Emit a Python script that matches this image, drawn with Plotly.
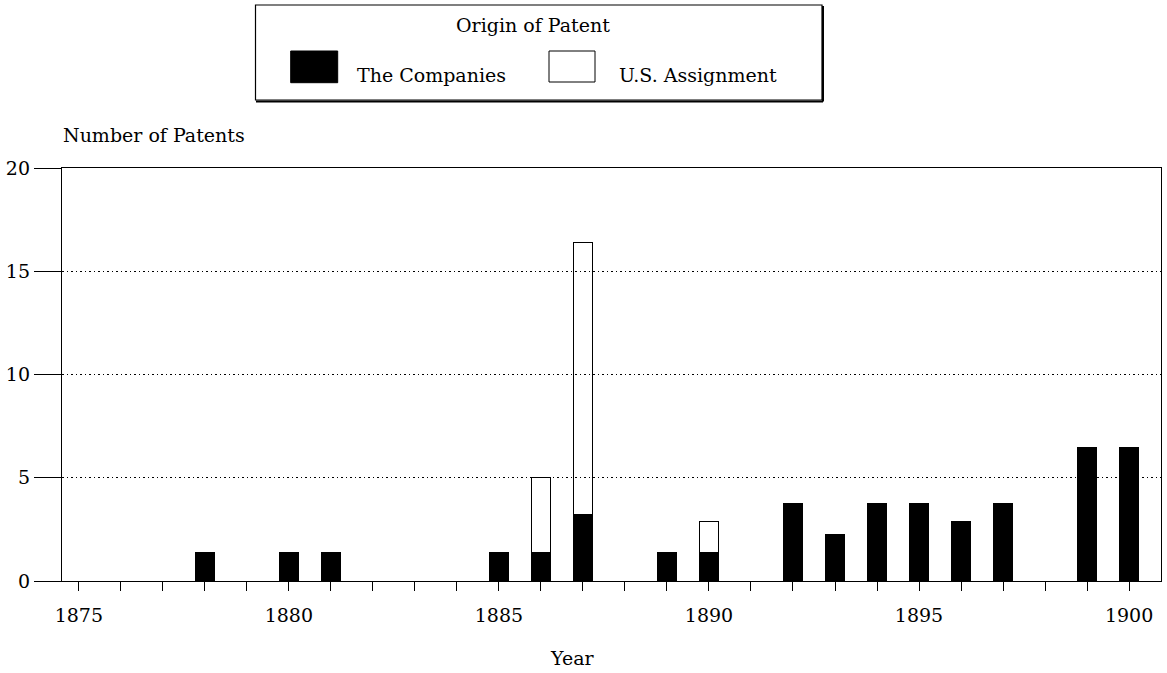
import plotly.graph_objects as go

years = [1878, 1880, 1881, 1885, 1886, 1887, 1889, 1890, 1892, 1893, 1894, 1895, 1896, 1897, 1899, 1900]
companies = [1.37, 1.37, 1.37, 1.37, 1.37, 3.22, 1.37, 1.37, 3.74, 2.25, 3.74, 3.74, 2.89, 3.74, 6.47, 6.47]
us_assignment = [None, None, None, None, 3.63, 13.16, None, 1.5, None, None, None, None, None, None, None, None]

tick_years = list(range(1875, 1901))
tick_labels = [str(y) if y % 5 == 0 else "" for y in tick_years]
y_ticks = [0, 5, 10, 15, 20]

FONT = "DejaVu Serif"
W, H = 1167, 673
L, R, T, B = 62, 6, 168, 92
PW = W - L - R
PH = H - T - B


def px(x):
    return (x - L) / PW


def py(y):
    return (H - B - y) / PH


fig = go.Figure()
fig.add_trace(go.Bar(
    x=years, y=companies, name="The Companies", width=0.45,
    marker=dict(color="black", line=dict(color="black", width=1)),
))
fig.add_trace(go.Bar(
    x=years, y=us_assignment, name="U.S. Assignment", width=0.45,
    marker=dict(color="rgba(255,255,255,0)", line=dict(color="black", width=1.3)),
))

fig.update_layout(
    width=W, height=H,
    margin=dict(l=L, r=R, t=T, b=B),
    barmode="stack",
    showlegend=False,
    plot_bgcolor="white",
    paper_bgcolor="white",
    font=dict(family=FONT, size=19, color="black"),
)

fig.update_xaxes(
    range=[1874.6, 1900.76],
    tickmode="array", tickvals=tick_years, ticktext=tick_labels,
    ticks="outside", ticklen=9, tickwidth=1, tickcolor="black",
    showline=True, linecolor="black", linewidth=1.3, mirror=True,
    showgrid=False, zeroline=False,
    ticklabelstandoff=8,
    tickfont=dict(family=FONT, size=19),
)
fig.update_yaxes(
    range=[0, 20],
    tickmode="array", tickvals=y_ticks,
    ticks="outside", ticklen=27, tickwidth=1.3, tickcolor="black",
    showline=True, linecolor="black", linewidth=1.3, mirror=True,
    showgrid=True, gridcolor="black", gridwidth=1, griddash="1.5px,3px",
    zeroline=False,
    ticklabelstandoff=0,
    tickfont=dict(family=FONT, size=19),
)

shapes = []
# legend box
shapes.append(dict(type="rect", xref="paper", yref="paper",
                   x0=px(255.5), x1=px(822), y0=py(100), y1=py(5),
                   line=dict(color="black", width=1.2), fillcolor="white", layer="above"))
# shadow edges
shapes.append(dict(type="line", xref="paper", yref="paper",
                   x0=px(256), x1=px(823), y0=py(101.5), y1=py(101.5),
                   line=dict(color="black", width=2)))
shapes.append(dict(type="line", xref="paper", yref="paper",
                   x0=px(823), x1=px(823), y0=py(101.5), y1=py(6),
                   line=dict(color="black", width=2)))
# swatches
shapes.append(dict(type="rect", xref="paper", yref="paper",
                   x0=px(290.7), x1=px(337.7), y0=py(82.7), y1=py(51),
                   line=dict(color="black", width=1), fillcolor="black"))
shapes.append(dict(type="rect", xref="paper", yref="paper",
                   x0=px(549), x1=px(595), y0=py(82), y1=py(51),
                   line=dict(color="black", width=1), fillcolor="white"))

annotations = [
    dict(text="Origin of Patent", xref="paper", yref="paper", x=px(533), y=py(25),
         xanchor="center", yanchor="middle", showarrow=False, font=dict(family=FONT, size=19)),
    dict(text="The Companies", xref="paper", yref="paper", x=px(355), y=py(75),
         xanchor="left", yanchor="middle", showarrow=False, font=dict(family=FONT, size=19)),
    dict(text="U.S. Assignment", xref="paper", yref="paper", x=px(617), y=py(75),
         xanchor="left", yanchor="middle", showarrow=False, font=dict(family=FONT, size=19)),
    dict(text="Number of Patents", xref="paper", yref="paper", x=px(61), y=py(135),
         xanchor="left", yanchor="middle", showarrow=False, font=dict(family=FONT, size=19)),
    dict(text="Year", xref="paper", yref="paper", x=px(572), y=py(658),
         xanchor="center", yanchor="middle", showarrow=False, font=dict(family=FONT, size=19)),
]

fig.update_layout(shapes=shapes, annotations=annotations)
fig.write_html(
    "out.html",
    config={"displayModeBar": False},
    post_script="document.body.style.margin='0px';document.body.style.overflow='hidden';",
)
